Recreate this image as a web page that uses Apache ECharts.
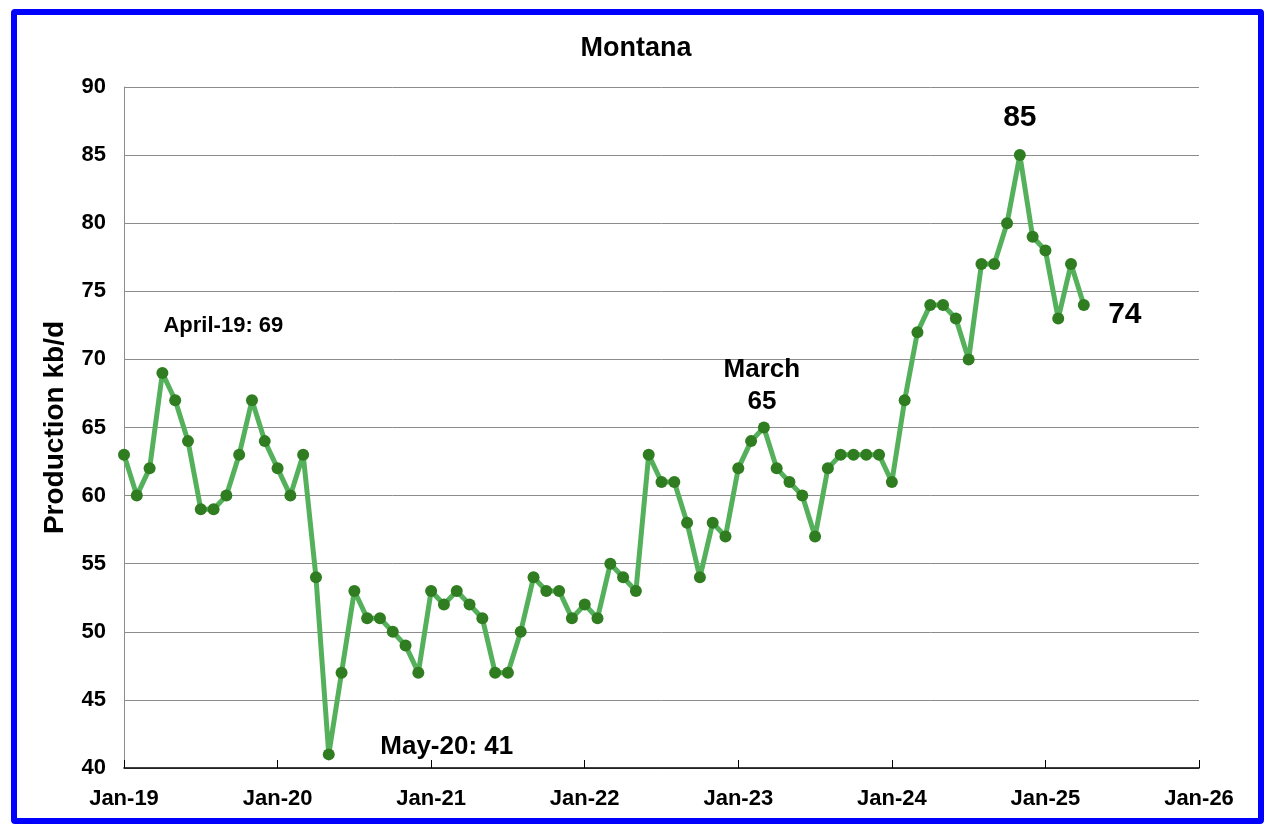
<!DOCTYPE html>
<html>
<head>
<meta charset="utf-8">
<script src="https://cdn.jsdelivr.net/npm/echarts@6/dist/echarts.min.js"></script>
<style>
  html, body { margin: 0; padding: 0; background: #fff; }
  #wrap { position: relative; width: 1272px; height: 838px; }
  #chart { position: absolute; left: 0; top: 0; width: 1272px; height: 838px; }
  #frame {
    position: absolute; left: 11px; top: 9px; width: 1241px; height: 803px;
    border: 6px solid #0000ff; border-radius: 4px; pointer-events: none;
  }
</style>
</head>
<body>
<div id="wrap">
  <div id="chart"></div>
  <div id="frame"></div>
</div>
<script>
// Monthly production, Jan-19 .. Apr-25 (kb/d)
const production = [
  63, 60, 62, 69, 67, 64, 59, 59, 60, 63, 67, 64,   // 2019
  62, 60, 63, 54, 41, 47, 53, 51, 51, 50, 49, 47,   // 2020
  53, 52, 53, 52, 51, 47, 47, 50, 54, 53, 53, 51,   // 2021
  52, 51, 55, 54, 53, 63, 61, 61, 58, 54, 58, 57,   // 2022
  62, 64, 65, 62, 61, 60, 57, 62, 63, 63, 63, 63,   // 2023
  61, 67, 72, 74, 74, 73, 70, 77, 77, 80, 85, 79,   // 2024
  78, 73, 77, 74                                    // 2025
]
// x ticks every 12 months from Jan-19
const tickLabels = ["Jan-19", "Jan-20", "Jan-21", "Jan-22", "Jan-23", "Jan-24", "Jan-25", "Jan-26"]
const yTicks = [40, 45, 50, 55, 60, 65, 70, 75, 80, 85, 90]

// callouts: month index -> text
const callouts = [
  { idx: 3, text: "April-19: 69", size: 22, offset: [61, -47] },
  { idx: 16, text: "May-20: 41", size: 26, offset: [118, -8] },
  { idx: 50, text: "March\n65", size: 26, offset: [-2, -42] },
  { idx: 70, text: "85", size: 30, offset: [0, -37] },
  { idx: 75, text: "74", size: 30, offset: [41, 10] },
]

const font = '"Liberation Sans", Arial, Helvetica, sans-serif'

const seriesData = production.map((v, i) => {
  const c = callouts.find((c) => c.idx === i)
  if (!c) return [i, v]
  return {
    value: [i, v],
    label: {
      show: true,
      position: "inside",
      offset: c.offset,
      formatter: c.text,
      fontSize: c.size,
      fontWeight: "bold",
      fontFamily: font,
      color: "#000",
      lineHeight: c.size + 6,
      align: "center",
    },
  }
})

const chart = echarts.init(document.getElementById("chart"), null, { renderer: "canvas" })

chart.setOption({
  animation: false,
  backgroundColor: "#fff",
  title: {
    text: "Montana",
    left: "center",
    top: 30,
    textStyle: { fontSize: 27, fontWeight: "bold", fontFamily: font, color: "#000" },
  },
  grid: { left: 124, right: 73, top: 87, bottom: 70 },
  xAxis: {
    type: "value",
    min: 0,
    max: (tickLabels.length - 1) * 12,
    interval: 12,
    axisLine: { show: true, lineStyle: { color: "#000", width: 1.5 } },
    axisTick: { show: true, inside: true, length: 8, lineStyle: { color: "#000", width: 1 } },
    splitLine: { show: false },
    axisLabel: {
      formatter: (v) => tickLabels[v / 12] || "",
      margin: 20,
      fontSize: 22,
      fontWeight: "bold",
      fontFamily: font,
      color: "#000",
    },
  },
  yAxis: {
    type: "value",
    min: yTicks[0],
    max: yTicks[yTicks.length - 1],
    interval: 5,
    name: "Production kb/d",
    nameLocation: "middle",
    nameGap: 55,
    nameTextStyle: { fontSize: 28, fontWeight: "bold", fontFamily: font, color: "#000" },
    axisLine: { show: true, lineStyle: { color: "#8c8c8c", width: 1 } },
    axisTick: { show: false },
    splitLine: { lineStyle: { color: "#8c8c8c", width: 1 } },
    axisLabel: {
      margin: 18,
      fontSize: 22,
      fontWeight: "bold",
      fontFamily: font,
      color: "#000",
    },
  },
  series: [
    {
      type: "line",
      data: seriesData,
      symbol: "circle",
      symbolSize: 12,
      lineStyle: { color: "#55b05c", width: 5 },
      itemStyle: { color: "#2f7d20" },
      z: 3,
    },
  ],
})
</script>
</body>
</html>
